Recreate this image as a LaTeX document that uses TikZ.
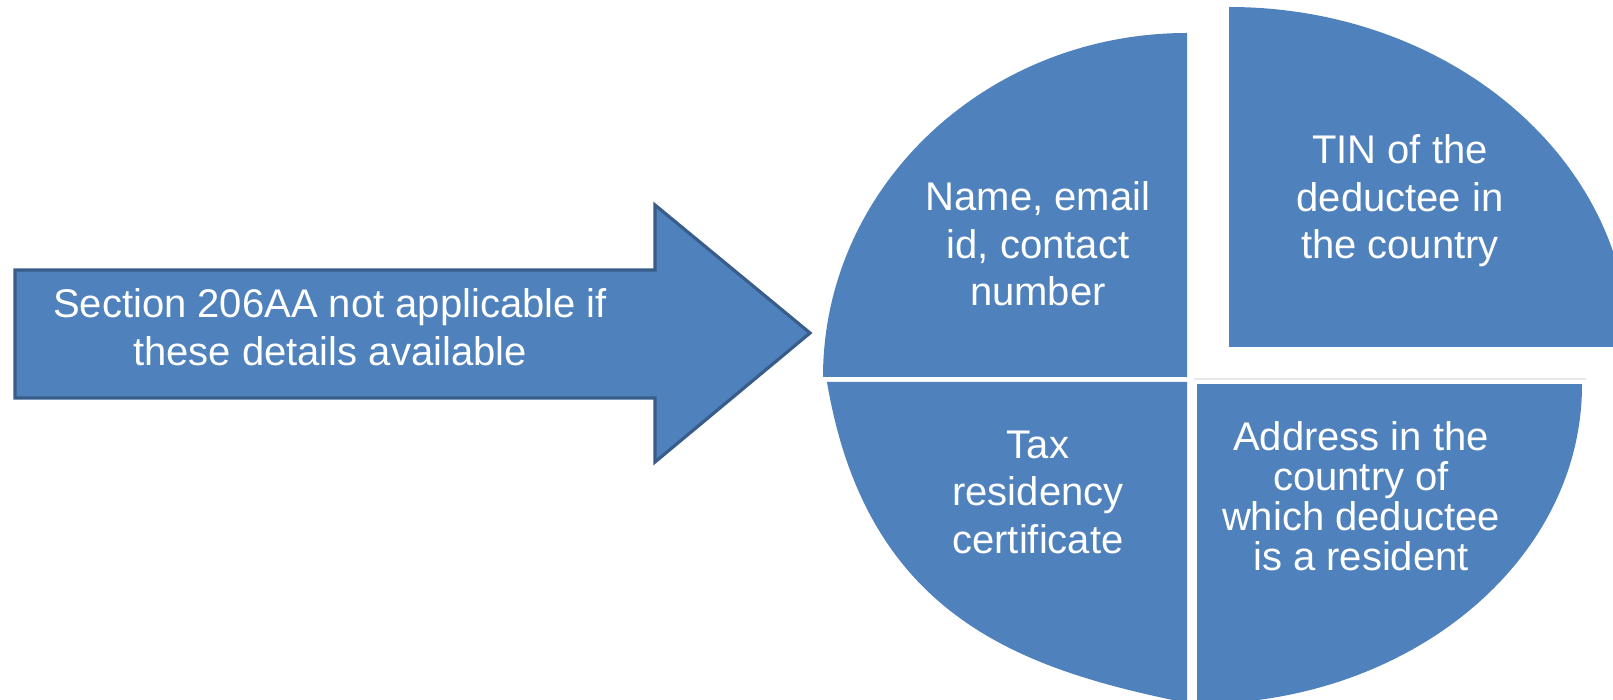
\documentclass[tikz,border=0pt]{standalone}
\usepackage{fontspec}
\setmainfont{Liberation Sans}
\definecolor{qblue}{RGB}{79,129,189}
\definecolor{qedge}{RGB}{56,93,138}
\definecolor{faint}{RGB}{230,232,238}
\begin{document}
\begin{tikzpicture}[x=0.5pt,y=-0.5pt,
  piece/.style={fill=qblue},
  arrowbody/.style={fill=qblue,draw=qedge,line width=1.6pt},
  lbl/.style={text=white,align=center,inner sep=0pt,anchor=base,font=\fontsize{20}{23.75}\selectfont},
  lbltight/.style={lbl,font=\fontsize{20}{20}\selectfont}]
\useasboundingbox (0,0) rectangle (1613,700);
\begin{scope}
\clip (0,0) rectangle (1613,700);
% top-left quarter
\begin{scope}
\clip (780,0) rectangle (1187,377);
\fill[piece] (1187,377) ellipse [x radius=364, y radius=344];
\end{scope}
% top-right quarter
\begin{scope}
\clip (1229,0) rectangle (1613,347);
\fill[piece] (1229,347) ellipse [x radius=400, y radius=340];
\end{scope}
% bottom-right quarter
\begin{scope}
\clip (1197,385) rectangle (1613,700);
\fill[piece] (1197,385) ellipse [x radius=385, y radius=319];
\end{scope}
% bottom-left piece
\fill[piece] (1187,382) -- (827,382) .. controls (867,620) and (1026,670) .. (1187,703) -- cycle;
% faint line
\draw[faint,line width=1pt] (1194,379) -- (1586,379);
\end{scope}
% arrow
\draw[arrowbody] (15,270) -- (655,270) -- (655,205) -- (810,333) -- (655,462) -- (655,398) -- (15,398) -- cycle;
\node[lbl] (arrowtext) at (330,365) {Section 206AA not applicable if\\these details available};
\node[lbl] (tl) at (1038,306) {Name, email\\id, contact\\number};
\node[lbl] (tr) at (1400,259) {TIN of the\\deductee in\\the country};
\node[lbl] (bl) at (1038,553) {Tax\\residency\\certificate};
\node[lbltight] (br) at (1361,570) {Address in the\\country of\\which deductee\\is a resident};
\end{tikzpicture}
\end{document}
